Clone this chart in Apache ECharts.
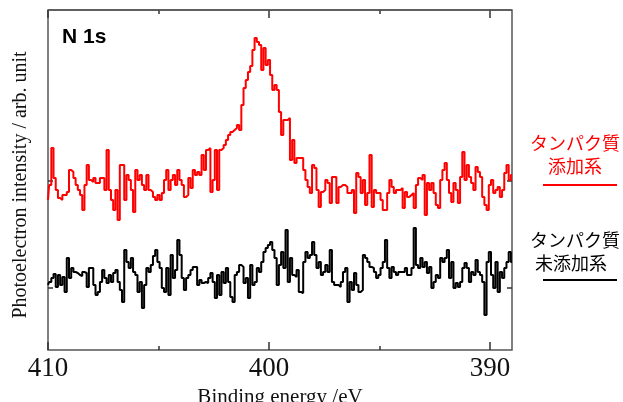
<!DOCTYPE html>
<html>
<head>
<meta charset="utf-8">
<script src="https://cdn.jsdelivr.net/npm/echarts@6/dist/echarts.min.js"></script>
<style>html,body{margin:0;padding:0;background:#fff}#c{width:623px;height:402px}</style>
</head>
<body>
<div id="c"></div>
<script>
// Binding energy grid (eV)
const energy = [
410,409.9,409.8,409.7,409.6,409.5,409.4,409.3,409.2,409.1,
409,408.9,408.8,408.7,408.6,408.5,408.4,408.3,408.2,408.1,
408,407.9,407.8,407.7,407.6,407.5,407.4,407.3,407.2,407.1,
407,406.9,406.8,406.7,406.6,406.5,406.4,406.3,406.2,406.1,
406,405.9,405.8,405.7,405.6,405.5,405.4,405.3,405.2,405.1,
405,404.9,404.8,404.7,404.6,404.5,404.4,404.3,404.2,404.1,
404,403.9,403.8,403.7,403.6,403.5,403.4,403.3,403.2,403.1,
403,402.9,402.8,402.7,402.6,402.5,402.4,402.3,402.2,402.1,
402,401.9,401.8,401.7,401.6,401.5,401.4,401.3,401.2,401.1,
401,400.9,400.8,400.7,400.6,400.5,400.4,400.3,400.2,400.1,
400,399.9,399.8,399.7,399.6,399.5,399.4,399.3,399.2,399.1,
399,398.9,398.8,398.7,398.6,398.5,398.4,398.3,398.2,398.1,
398,397.9,397.8,397.7,397.6,397.5,397.4,397.3,397.2,397.1,
397,396.9,396.8,396.7,396.6,396.5,396.4,396.3,396.2,396.1,
396,395.9,395.8,395.7,395.6,395.5,395.4,395.3,395.2,395.1,
395,394.9,394.8,394.7,394.6,394.5,394.4,394.3,394.2,394.1,
394,393.9,393.8,393.7,393.6,393.5,393.4,393.3,393.2,393.1,
393,392.9,392.8,392.7,392.6,392.5,392.4,392.3,392.2,392.1,
392,391.9,391.8,391.7,391.6,391.5,391.4,391.3,391.2,391.1,
391,390.9,390.8,390.7,390.6,390.5,390.4,390.3,390.2,390.1,
390,389.9,389.8,389.7,389.6,389.5,389.4,389.3,389.2,389.1,
389
];
// タンパク質添加系 (arb. unit)
const withProtein = [
150,165,202,172,160,152,150,155,155,158,
180,178,172,165,160,155,140,165,185,170,
168,172,167,167,172,172,160,200,160,150,
140,160,130,185,185,150,175,170,160,138,
180,170,175,165,160,175,160,158,153,150,
155,150,157,170,180,160,170,175,165,180,
170,165,153,155,172,162,180,175,178,175,
195,180,200,202,158,170,200,160,200,202,
205,210,215,218,220,222,225,220,245,262,
270,278,284,300,312,308,305,280,302,285,
290,275,260,265,260,238,215,230,230,232,
190,210,187,192,192,192,180,170,163,157,
185,182,160,143,158,160,170,167,147,173,
173,147,163,165,165,163,157,157,160,137,
177,173,157,170,145,157,195,143,160,157,
157,150,140,140,157,170,163,157,160,160,
162,142,158,153,155,157,142,165,172,170,
175,135,167,160,167,157,145,142,170,180,
187,170,157,148,167,160,147,173,198,170,
185,173,167,160,183,178,173,153,145,140,
165,170,157,160,163,153,160,177,185,170,
175
];
// タンパク質未添加系 (arb. unit)
const withoutProtein = [
65,68,72,76,63,75,65,73,58,92,
72,82,78,77,75,74,78,77,63,82,
82,65,55,58,68,80,72,67,75,68,
77,80,68,60,48,100,88,82,92,78,
75,58,68,42,65,82,78,85,94,100,
88,82,62,58,82,55,95,72,80,110,
95,72,60,72,75,80,83,83,65,70,
67,68,67,72,77,68,52,75,55,78,
67,82,68,53,48,75,78,85,83,67,
72,52,85,65,68,82,78,88,98,102,
105,108,100,92,65,85,98,82,120,68,
92,75,73,80,58,57,88,98,92,95,
108,95,82,88,75,78,85,78,100,68,
65,65,63,68,78,82,48,68,60,77,
65,58,60,95,92,88,83,82,78,72,
75,82,88,110,82,72,83,78,75,78,
78,78,82,75,75,82,122,85,82,92,
83,88,77,83,62,68,75,72,92,88,
92,100,72,88,62,67,63,68,82,87,
82,68,78,75,90,78,75,68,35,88,
98,75,62,88,58,78,72,82,88,98,
88
];
const xMajorTicks = [390, 400, 410];
const xMinorTicks = [395, 405];
const xLabels = [390, 400, 410];
const yTicks = [62, 169];

const chart = echarts.init(document.getElementById('c'));
const noLine = { show: false, onZero: false };
const tickStyle = { color: '#333', width: 1.5 };
const pairs = arr => energy.map((e, i) => [e, arr[i]]).filter(p => p[1] !== undefined);
const xBase = { type: 'value', inverse: true, min: 389, max: 410, splitLine: { show: false }, axisLine: noLine };

chart.setOption({
  animation: false,
  grid: { left: 48, top: 10, right: 111, bottom: 52, containLabel: false, outerBoundsMode: 'none',
    show: true, borderColor: '#555', borderWidth: 1.5, backgroundColor: 'transparent' },
  xAxis: [
    Object.assign({}, xBase, {
      position: 'bottom',
      axisTick: { inside: true, length: 8, customValues: xMajorTicks, lineStyle: tickStyle },
      axisLabel: { customValues: xLabels, fontSize: 27, fontFamily: 'Liberation Serif', color: '#111', margin: 5 },
      name: 'Binding energy /eV', nameLocation: 'middle', nameGap: 31,
      nameTextStyle: { fontSize: 21, fontFamily: 'Liberation Serif', color: '#111' }
    }),
    Object.assign({}, xBase, {
      position: 'top',
      axisTick: { inside: true, length: 8, customValues: xMajorTicks, lineStyle: tickStyle },
      axisLabel: { show: false }
    }),
    Object.assign({}, xBase, {
      position: 'bottom',
      axisTick: { inside: true, length: 4, customValues: xMinorTicks, lineStyle: tickStyle },
      axisLabel: { show: false }
    }),
    Object.assign({}, xBase, {
      position: 'top',
      axisTick: { inside: true, length: 4, customValues: xMinorTicks, lineStyle: tickStyle },
      axisLabel: { show: false }
    })
  ],
  yAxis: [{
    type: 'value', min: 0, max: 340, position: 'left', axisLine: noLine,
    axisTick: { show: true, inside: true, length: 5, customValues: yTicks, lineStyle: tickStyle },
    axisLabel: { show: false }, splitLine: { show: false }
  }, {
    type: 'value', min: 0, max: 340, position: 'right', axisLine: noLine,
    axisTick: { show: true, inside: true, length: 5, customValues: yTicks, lineStyle: tickStyle },
    axisLabel: { show: false }, splitLine: { show: false }
  }],
  series: [{
    type: 'line', name: 'タンパク質添加系', data: pairs(withProtein), step: 'middle',
    showSymbol: false, lineStyle: { color: '#ff0000', width: 2 }, itemStyle: { color: '#ff0000' }
  }, {
    type: 'line', name: 'タンパク質未添加系', data: pairs(withoutProtein), step: 'middle',
    showSymbol: false, lineStyle: { color: '#000', width: 2 }, itemStyle: { color: '#000' }
  }],
  graphic: [
    { type: 'line', z: 100, shape: { x1: 48, y1: 10, x2: 512, y2: 10 }, style: { stroke: '#555', lineWidth: 1.5 } },
    { type: 'text', x: 21, y: 185, rotation: Math.PI / 2,
      style: { text: 'Photoelectron intensity / arb. unit', font: '20px "Liberation Serif", serif', fill: '#111', align: 'center', verticalAlign: 'middle' } },
    { type: 'text', left: 62, top: 27, style: { text: 'N 1s', font: 'bold 21px "Liberation Sans", Arial, sans-serif', fill: '#000' } },
    { type: 'text', x: 575, y: 143, style: { text: 'タンパク質', font: '18px "Noto Sans CJK JP"', fill: '#ff0000', align: 'center', verticalAlign: 'middle' } },
    { type: 'text', x: 575, y: 166, style: { text: '添加系', font: '18px "Noto Sans CJK JP"', fill: '#ff0000', align: 'center', verticalAlign: 'middle' } },
    { type: 'line', shape: { x1: 543, y1: 185, x2: 617, y2: 185 }, style: { stroke: '#ff0000', lineWidth: 2 } },
    { type: 'text', x: 575, y: 240, style: { text: 'タンパク質', font: '18px "Noto Sans CJK JP"', fill: '#000', align: 'center', verticalAlign: 'middle' } },
    { type: 'text', x: 571, y: 263, style: { text: '未添加系', font: '18px "Noto Sans CJK JP"', fill: '#000', align: 'center', verticalAlign: 'middle' } },
    { type: 'line', shape: { x1: 543, y1: 280, x2: 617, y2: 280 }, style: { stroke: '#000', lineWidth: 2 } }
  ]
});
</script>
</body>
</html>
